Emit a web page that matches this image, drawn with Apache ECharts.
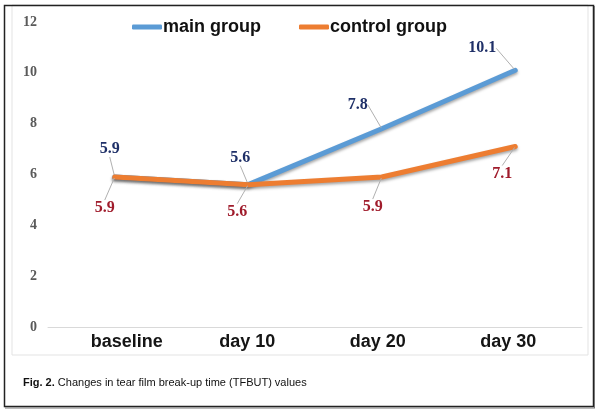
<!DOCTYPE html>
<html>
<head>
<meta charset="utf-8">
<script src="https://cdn.jsdelivr.net/npm/echarts@6/dist/echarts.min.js"></script>
<style>
  html, body { margin: 0; padding: 0; background: #fff; }
  #chart { width: 600px; height: 412px; }
</style>
</head>
<body>
<div id="chart"></div>
<script>
const categories = ['baseline', 'day 10', 'day 20', 'day 30'];
const mainGroup = [5.9, 5.6, 7.8, 10.1];
const controlGroup = [5.9, 5.6, 5.9, 7.1];
const yTicks = { min: 0, max: 12, interval: 2 };
const caption = 'Fig. 2.';
const captionRest = ' Changes in tear film break-up time (TFBUT) values';

// label nudges (pixels) relative to default top/bottom placement
const mainLabelShift = [[-5, -14], [-8, -13], [-24, -10], [-33, -8]];
const controlLabelShift = [[-10, 17], [-11, 13], [-9, 16], [-13, 13]];
// small horizontal nudges of category labels
const catLabelShift = [12, -1, -4, -7];

const chart = echarts.init(document.getElementById('chart'), null, { renderer: 'canvas' });

const serifLabel = {
  fontFamily: '"Liberation Serif", "DejaVu Serif", serif',
  fontWeight: 'bold',
  fontSize: 16
};

chart.setOption({
  animation: false,
  backgroundColor: '#fff',
  graphic: [
    { type: 'rect', shape: { x: 12, y: 5, width: 576, height: 350 },
      style: { fill: 'none', stroke: '#e3e3e3', lineWidth: 1 }, silent: true, z: -1 },
    { type: 'rect', shape: { x: 4.5, y: 5.5, width: 589, height: 401 },
      style: { fill: 'none', stroke: '#222', lineWidth: 1.5 }, silent: true, z: 10 },
    { type: 'line', shape: { x1: 594.5, y1: 6, x2: 594.5, y2: 408 },
      style: { stroke: '#777', lineWidth: 1 }, silent: true, z: 10 },
    { type: 'line', shape: { x1: 5, y1: 408, x2: 595, y2: 408 },
      style: { stroke: '#777', lineWidth: 1 }, silent: true, z: 10 },
    { type: 'text', left: 23, top: 377,
      style: {
        text: '{b|' + caption + '}{r|' + captionRest + '}',
        rich: {
          b: { fontFamily: '"Liberation Sans", Arial, sans-serif', fontWeight: 'bold', fontSize: 11, fill: '#111' },
          r: { fontFamily: '"Liberation Sans", Arial, sans-serif', fontSize: 11, fill: '#111' }
        }
      }, z: 10 }
  ],
  legend: {
    left: 127,
    top: 13,
    itemWidth: 30,
    itemHeight: 5,
    itemGap: 38,
    icon: 'roundRect',
    textStyle: {
      fontFamily: '"Liberation Sans", Arial, sans-serif',
      fontWeight: 'bold',
      fontSize: 18,
      color: '#111',
      padding: [0, 0, 0, -4]
    },
    data: ['main group', 'control group']
  },
  grid: { left: 48, right: 18, top: 22, bottom: 85, containLabel: false },
  xAxis: {
    type: 'category',
    data: categories.map((c, i) => ({
      value: c,
      textStyle: { padding: catLabelShift[i] > 0 ? [0, 0, 0, 2 * catLabelShift[i]] : [0, -2 * catLabelShift[i], 0, 0] }
    })),
    boundaryGap: true,
    axisLine: { show: true, lineStyle: { color: '#d9d9d9', width: 1 } },
    axisTick: { show: false },
    axisLabel: {
      margin: 6,
      fontFamily: '"Liberation Sans", Arial, sans-serif',
      fontWeight: 'bold',
      fontSize: 18,
      color: '#151515'
    }
  },
  yAxis: {
    type: 'value',
    min: yTicks.min,
    max: yTicks.max,
    interval: yTicks.interval,
    axisLine: { show: false },
    axisTick: { show: false },
    splitLine: { show: false },
    axisLabel: {
      margin: 11,
      fontFamily: '"Liberation Serif", "DejaVu Serif", serif',
      fontWeight: 'bold',
      fontSize: 14,
      color: '#5a5a5a'
    }
  },
  series: [
    {
      name: 'main group',
      type: 'line',
      data: mainGroup,
      symbol: 'circle',
      symbolSize: 2,
      showSymbol: true,
      itemStyle: { color: '#5b9bd5' },
      color: '#5b9bd5',
      lineStyle: { width: 5, color: '#5b9bd5', cap: 'round', join: 'round',
        shadowColor: 'rgba(0,0,0,0.35)', shadowBlur: 3, shadowOffsetY: 2 },
      label: Object.assign({ show: true, position: 'top', distance: 5, color: '#1f3068' }, serifLabel),
      labelLine: { show: true, lineStyle: { color: '#b0b0b0', width: 1 } },
      labelLayout: function (p) {
        const s = mainLabelShift[p.dataIndex];
        return { dx: s[0], dy: s[1] };
      },
      z: 2
    },
    {
      name: 'control group',
      type: 'line',
      data: controlGroup,
      symbol: 'circle',
      symbolSize: 2,
      showSymbol: true,
      itemStyle: { color: '#ed7d31' },
      color: '#ed7d31',
      lineStyle: { width: 5, color: '#ed7d31', cap: 'round', join: 'round',
        shadowColor: 'rgba(0,0,0,0.35)', shadowBlur: 3, shadowOffsetY: 2 },
      label: Object.assign({ show: true, position: 'bottom', distance: 5, color: '#a01c2c' }, serifLabel),
      labelLine: { show: true, lineStyle: { color: '#b0b0b0', width: 1 } },
      labelLayout: function (p) {
        const s = controlLabelShift[p.dataIndex];
        return { dx: s[0], dy: s[1] };
      },
      z: 3
    }
  ]
});
</script>
</body>
</html>
